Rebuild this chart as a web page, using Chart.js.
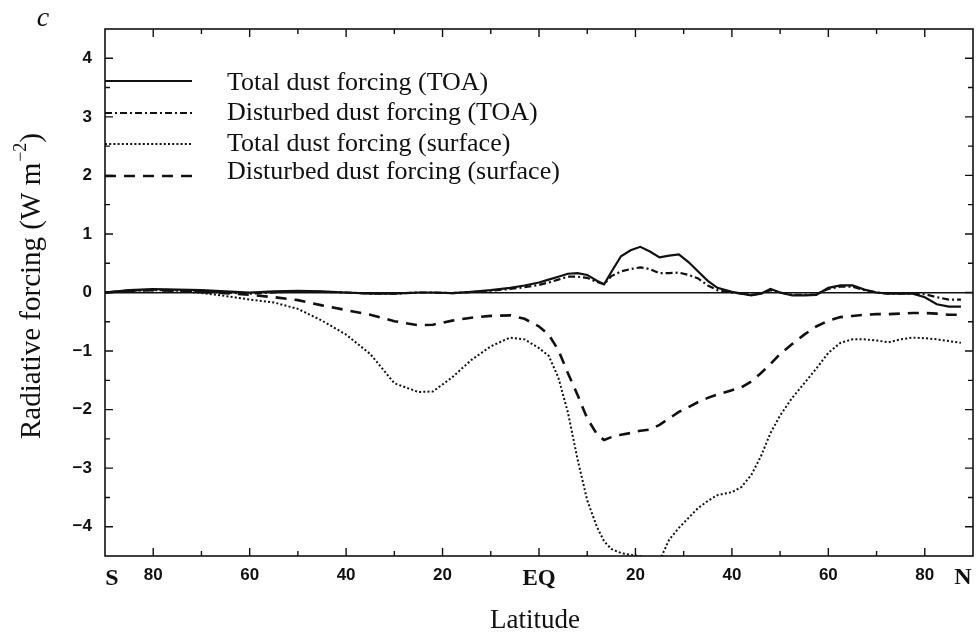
<!DOCTYPE html>
<html>
<head>
<meta charset="utf-8">
<script src="https://cdn.jsdelivr.net/npm/chart.js@4/dist/chart.umd.min.js"></script>
<style>
  html, body { margin: 0; padding: 0; background: #fff; }
  #wrap { position: relative; width: 976px; height: 635px; }
</style>
</head>
<body>
<div id="wrap"><canvas id="chart" width="976" height="635"></canvas></div>
<script>
// Latitude (degrees, south negative)
const latitudes = [-90, -85, -80, -75, -70, -65, -60, -55, -50, -45, -40, -35, -30, -25, -22, -18, -14, -10, -6, -3,
  0, 2, 4, 6, 8, 10, 12, 13.5, 15, 17, 19, 21, 23, 25, 27, 29, 31, 33, 35, 37,
  40, 42, 44, 46, 48, 50, 52.5, 55, 57.5, 60, 62.5, 65, 67.5, 70, 72.5, 75, 77.5, 80, 82.5, 85, 87.5];

// Zonal mean forcing, W m-2
const totalToa = [0.0, 0.04, 0.06, 0.05, 0.04, 0.02, 0.0, 0.02, 0.03, 0.02, 0.0, -0.02, -0.02, 0.0, 0.0, -0.01, 0.01, 0.04, 0.08, 0.12,
  0.17, 0.22, 0.27, 0.32, 0.33, 0.30, 0.20, 0.14, 0.35, 0.62, 0.72, 0.78, 0.70, 0.60, 0.63, 0.65, 0.52, 0.36, 0.20, 0.08,
  0.01, -0.02, -0.05, -0.02, 0.06, 0.0, -0.05, -0.05, -0.04, 0.08, 0.12, 0.12, 0.05, 0.0, -0.02, -0.02, -0.02, -0.08, -0.20, -0.24, -0.24];

const disturbedToa = [0.0, 0.03, 0.05, 0.04, 0.02, 0.0, -0.02, 0.0, 0.02, 0.01, 0.0, -0.02, -0.02, 0.0, 0.0, -0.01, 0.01, 0.03, 0.06, 0.09,
  0.13, 0.17, 0.22, 0.27, 0.27, 0.25, 0.18, 0.14, 0.28, 0.36, 0.40, 0.43, 0.40, 0.33, 0.33, 0.34, 0.30, 0.24, 0.12, 0.04,
  0.0, -0.02, -0.04, -0.02, 0.04, 0.0, -0.04, -0.04, -0.03, 0.06, 0.10, 0.10, 0.04, 0.0, -0.02, -0.02, -0.02, -0.03, -0.08, -0.12, -0.12];

const totalSurface = [0.0, 0.03, 0.04, 0.03, -0.01, -0.06, -0.12, -0.17, -0.28, -0.48, -0.72, -1.05, -1.55, -1.70, -1.69, -1.45, -1.15, -0.92, -0.77, -0.80,
  -0.95, -1.08, -1.45, -2.05, -2.85, -3.55, -4.00, -4.25, -4.38, -4.45, -4.48, -4.50, -4.55, -4.58, -4.22, -4.02, -3.85, -3.68, -3.56, -3.46,
  -3.41, -3.32, -3.12, -2.80, -2.40, -2.10, -1.80, -1.55, -1.30, -1.03, -0.86, -0.80, -0.80, -0.82, -0.85, -0.80, -0.77, -0.78, -0.80, -0.83, -0.86];

const disturbedSurface = [0.0, 0.03, 0.04, 0.03, 0.01, -0.01, -0.04, -0.08, -0.13, -0.22, -0.30, -0.38, -0.49, -0.56, -0.55, -0.48, -0.43, -0.40, -0.39, -0.45,
  -0.58, -0.72, -0.98, -1.38, -1.75, -2.15, -2.42, -2.52, -2.47, -2.43, -2.40, -2.36, -2.34, -2.26, -2.15, -2.04, -1.96, -1.87, -1.80, -1.74,
  -1.67, -1.62, -1.52, -1.38, -1.22, -1.05, -0.88, -0.72, -0.58, -0.48, -0.42, -0.40, -0.38, -0.37, -0.37, -0.36, -0.35, -0.35, -0.36, -0.38, -0.38];

const seriesNames = [
  'Total dust forcing (TOA)',
  'Disturbed dust forcing (TOA)',
  'Total dust forcing (surface)',
  'Disturbed dust forcing (surface)'
];

const INK = '#111';
const SERIF = '"Liberation Serif", "Times New Roman", serif';
const SANS = '"Liberation Sans", Arial, sans-serif';

function pts(values) {
  return latitudes.map((lat, i) => ({ x: lat, y: values[i] }));
}

// Line styles per series; the key uses the same values
const styles = [
  { borderWidth: 2.2, borderDash: [] },
  { borderWidth: 2.2, borderDash: [7, 3, 2, 3] },
  { borderWidth: 2, borderDash: [2, 2.2] },
  { borderWidth: 2.6, borderDash: [11, 8] }
];
const legendRows = [
  { line: 81, text: 83 },
  { line: 113, text: 113 },
  { line: 144, text: 144 },
  { line: 176, text: 172 }
];

const frame = {
  id: 'frame',
  afterDraw(chart) {
    const ctx = chart.ctx;
    const ca = chart.chartArea;
    const xs = chart.scales.x, ys = chart.scales.y;
    ctx.save();
    ctx.strokeStyle = INK;
    ctx.lineWidth = 1.6;
    ctx.setLineDash([]);
    ctx.strokeRect(ca.left, ca.top, ca.right - ca.left, ca.bottom - ca.top);

    // inward ticks on all four sides
    ctx.lineWidth = 1.4;
    for (let lat = -80; lat <= 80; lat += 10) {
      const px = xs.getPixelForValue(lat);
      const len = lat % 20 === 0 ? 8 : 5;
      ctx.beginPath();
      ctx.moveTo(px, ca.bottom); ctx.lineTo(px, ca.bottom - len);
      ctx.moveTo(px, ca.top); ctx.lineTo(px, ca.top + len);
      ctx.stroke();
    }
    for (let k = -8; k <= 8; k++) {
      const v = k / 2;
      const py = ys.getPixelForValue(v);
      const len = k % 2 === 0 ? 8 : 5;
      ctx.beginPath();
      ctx.moveTo(ca.left, py); ctx.lineTo(ca.left + len, py);
      ctx.moveTo(ca.right, py); ctx.lineTo(ca.right - len, py);
      ctx.stroke();
    }

    // hemisphere letters at the axis ends
    ctx.fillStyle = INK;
    ctx.font = 'bold 24px ' + SERIF;
    ctx.textAlign = 'center';
    ctx.textBaseline = 'middle';
    ctx.fillText('S', xs.getPixelForValue(-90) + 7, 579);
    ctx.fillText('N', xs.getPixelForValue(90) - 10, 578);

    // x-axis title
    ctx.font = '27px ' + SERIF;
    ctx.fillText('Latitude', (ca.left + ca.right) / 2 - 4, 621);

    // panel letter
    ctx.font = 'italic 28px ' + SERIF;
    ctx.fillText('c', 43, 19);

    // y-axis title with superscript
    ctx.translate(32, 286);
    ctx.rotate(-Math.PI / 2);
    const main = 'Radiative forcing (W m';
    const sup = '\u22122';
    const close = ')';
    ctx.font = '29px ' + SERIF;
    const wMain = ctx.measureText(main).width;
    const wClose = ctx.measureText(close).width;
    ctx.font = '18px ' + SERIF;
    const wSup = ctx.measureText(sup).width;
    const total = wMain + wSup + wClose + 1;
    let x0 = -total / 2;
    ctx.textAlign = 'left';
    ctx.font = '29px ' + SERIF;
    ctx.fillText(main, x0, 0);
    ctx.font = '18px ' + SERIF;
    ctx.fillText(sup, x0 + wMain + 1, -11);
    ctx.font = '29px ' + SERIF;
    ctx.fillText(close, x0 + wMain + wSup + 1, 0);
    ctx.restore();

    // key inside the plot
    ctx.save();
    chart.data.datasets.forEach((ds, i) => {
      const row = legendRows[i];
      ctx.strokeStyle = INK;
      ctx.lineWidth = ds.borderWidth;
      ctx.setLineDash(ds.borderDash || []);
      ctx.beginPath();
      ctx.moveTo(ca.left, row.line);
      ctx.lineTo(ca.left + 87, row.line);
      ctx.stroke();
      ctx.setLineDash([]);
      ctx.fillStyle = INK;
      ctx.font = '26px ' + SERIF;
      ctx.textAlign = 'left';
      ctx.textBaseline = 'middle';
      ctx.fillText(ds.label, 227, row.text);
    });
    ctx.restore();
  }
};

const datasets = [totalToa, disturbedToa, totalSurface, disturbedSurface].map((vals, i) => ({
  label: seriesNames[i],
  data: pts(vals),
  borderColor: INK,
  borderWidth: styles[i].borderWidth,
  borderDash: styles[i].borderDash,
  pointRadius: 0,
  tension: 0,
  fill: false
}));

new Chart(document.getElementById('chart'), {
  type: 'line',
  data: { datasets },
  options: {
    responsive: false,
    animation: false,
    events: [],
    layout: { padding: { top: 29, right: 3, left: 0, bottom: 0 } },
    plugins: { legend: { display: false }, tooltip: { enabled: false } },
    scales: {
      x: {
        type: 'linear',
        min: -90,
        max: 90,
        afterFit(scale) {
          scale.height = 79;
          scale.paddingLeft = 0;
          scale.paddingRight = 0;
        },
        border: { display: false },
        grid: { display: false, drawTicks: false },
        ticks: {
          stepSize: 10,
          autoSkip: false,
          maxRotation: 0,
          padding: 9,
          color: INK,
          font: (c) => (c.tick && c.tick.value === 0)
            ? { family: SERIF, size: 23, weight: 'bold' }
            : { family: SANS, size: 17, weight: 'bold' },
          callback: (v) => {
            if (v === 0) return 'EQ';
            if (v === -90 || v === 90) return '';
            return v % 20 === 0 ? String(Math.abs(v)) : '';
          }
        }
      },
      y: {
        min: -4.5,
        max: 4.5,
        afterFit(scale) { scale.width = 105; },
        border: { display: false },
        grid: {
          drawTicks: false,
          lineWidth: 1.4,
          color: (c) => (c.tick && c.tick.value === 0) ? INK : 'rgba(0,0,0,0)'
        },
        ticks: {
          stepSize: 0.5,
          autoSkip: false,
          padding: 13,
          color: INK,
          font: { family: SANS, size: 17, weight: 'bold' },
          callback: (v) => Number.isInteger(v) ? (v < 0 ? '\u2212' + (-v) : String(v)) : ''
        }
      }
    }
  },
  plugins: [frame]
});
</script>
</body>
</html>
